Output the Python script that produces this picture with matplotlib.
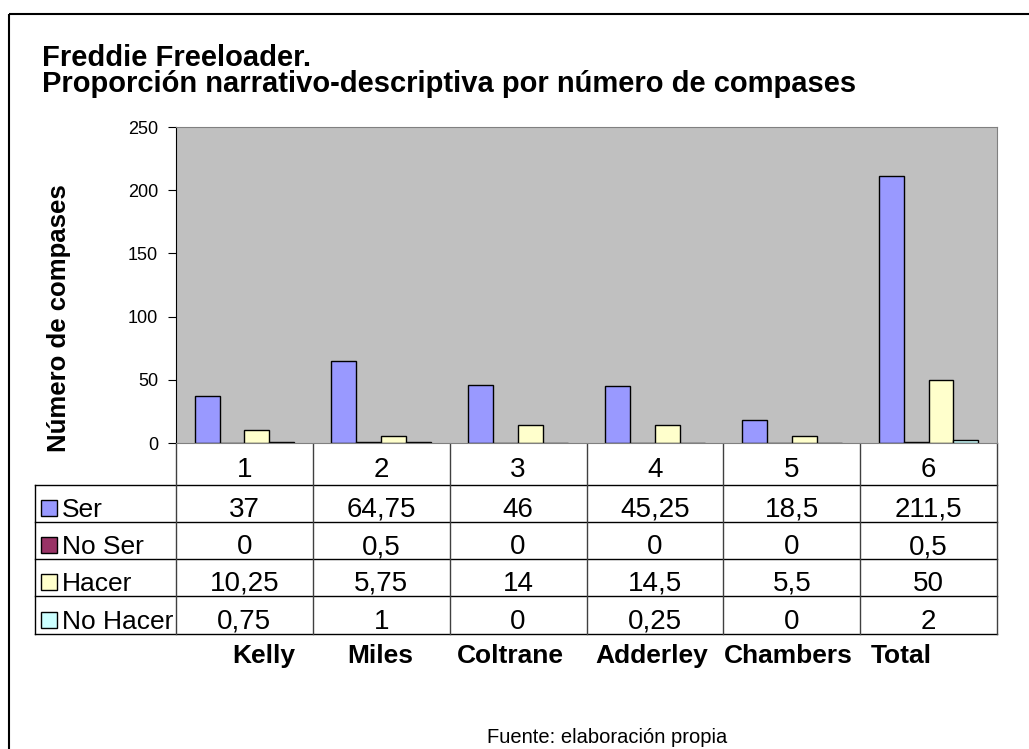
import matplotlib.pyplot as plt
from matplotlib.patches import Rectangle

plt.rcParams['font.family'] = ['Liberation Sans', 'DejaVu Sans']

# datos
interpretes = ['Kelly', 'Miles', 'Coltrane', 'Adderley', 'Chambers', 'Total']
columnas = ['1', '2', '3', '4', '5', '6']
series = ['Ser', 'No Ser', 'Hacer', 'No Hacer']
ser = [37, 64.75, 46, 45.25, 18.5, 211.5]
no_ser = [0, 0.5, 0, 0, 0, 0.5]
hacer = [10.25, 5.75, 14, 14.5, 5.5, 50]
no_hacer = [0.75, 1, 0, 0.25, 0, 2]
colores = ['#9999FF', '#993366', '#FFFFCC', '#CCFFFF']

valores = [ser, no_ser, hacer, no_hacer]

W, H = 1029, 749
fig = plt.figure(figsize=(W / 100, H / 100), dpi=100)

# area del grafico (en pixeles)
x0, x1 = 176, 997
y_top, y_bot = 127, 443
ax = fig.add_axes([x0 / W, 1 - y_bot / H, (x1 - x0) / W, (y_bot - y_top) / H])
ax.set_facecolor('#C0C0C0')

n = len(columnas)
ancho = 0.182
for k, (vals, col) in enumerate(zip(valores, colores)):
    pos = [i + 0.5 + (k - 1.5) * ancho for i in range(n)]
    ax.bar(pos, vals, width=ancho, color=col, edgecolor='black', linewidth=1)

ax.set_xlim(0, n)
ax.set_ylim(0, 250)
ax.set_yticks(range(0, 251, 50))
ax.set_xticks([])
ax.tick_params(axis='y', direction='out', length=6, labelsize=13, pad=7)
for s in ['top', 'right', 'bottom']:
    ax.spines[s].set_color('#808080')
ax.spines['left'].set_color('black')

# capa para la tabla y textos en pixeles
ov = fig.add_axes([0, 0, 1, 1], zorder=-1)
ov.set_xlim(0, W)
ov.set_ylim(H, 0)
ov.axis('off')

# marco exterior
ov.add_patch(Rectangle((9, 14), W + 20, H + 20, fill=False, edgecolor='black', linewidth=1.5))

ov.text(42, 66, 'Freddie Freeloader.', fontsize=21, fontweight='bold', va='baseline')
ov.text(42, 92, 'Proporción narrativo-descriptiva por número de compases',
        fontsize=21, fontweight='bold', va='baseline')
ov.text(59, 318, 'Número de compases', fontsize=18.5, fontweight='bold',
        rotation=90, ha='center', va='center')

# tabla de datos
col_w = (x1 - x0) / n
x_leg = 35
filas = [443, 485, 522, 559, 596, 634]
lc = '#000000'
for y in filas[1:]:
    ov.plot([x_leg, x1], [y, y], color=lc, lw=1)
ov.plot([x_leg, x_leg], [filas[1], filas[-1]], color=lc, lw=1)
for i in range(n + 1):
    ov.plot([x0 + i * col_w] * 2, [filas[0], filas[-1]], color='#404040', lw=1)

for i, c in enumerate(columnas):
    ov.text(x0 + (i + 0.5) * col_w, filas[1] - 8, c,
            fontsize=20, ha='center', va='baseline')


def fmt(v):
    return ('%g' % v).replace('.', ',')


for r, (nombre, vals, col) in enumerate(zip(series, valores, colores)):
    yb = filas[r + 2]
    ov.add_patch(Rectangle((41, yb - 22), 16, 16, facecolor=col, edgecolor='black', lw=1))
    ov.text(62, yb - 5, nombre, fontsize=19, ha='left', va='baseline')
    for i, v in enumerate(vals):
        ov.text(x0 + (i + 0.5) * col_w, yb - 5, fmt(v), fontsize=20,
                ha='center', va='baseline')

# nombres de los interpretes
desplaz = [19, -1, -8, -3, -3, -27]
for i, (nom, d) in enumerate(zip(interpretes, desplaz)):
    ov.text(x0 + (i + 0.5) * col_w + d, 663, nom, fontsize=19, fontweight='bold',
            ha='center', va='baseline')

ov.text(607, 743, 'Fuente: elaboración propia', fontsize=14.5, ha='center', va='baseline')

fig.savefig('out.png', dpi=100)
